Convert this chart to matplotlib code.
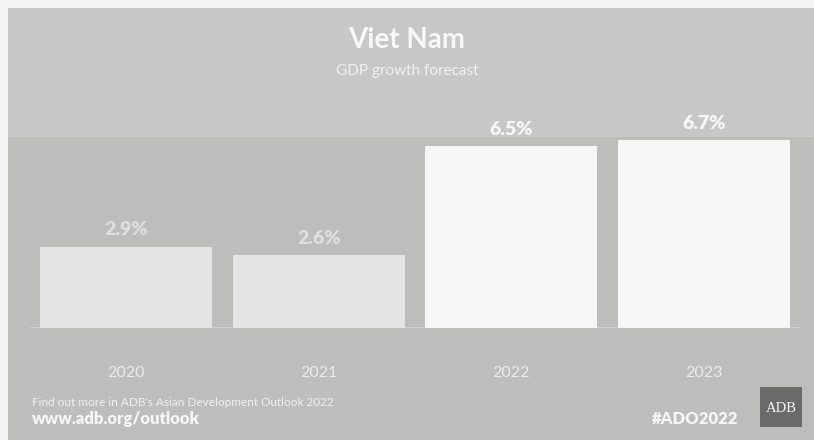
import matplotlib.pyplot as plt
from matplotlib.patches import Rectangle

# data
years = ["2020", "2021", "2022", "2023"]
growth = [2.9, 2.6, 6.5, 6.7]
bar_colors = ["#e3e4e3", "#e3e4e3", "#f5f6f5", "#f5f6f5"]
label_colors = ["#dedede", "#dedede", "#f7f7f7", "#f7f7f7"]

W, H = 814, 440
fig = plt.figure(figsize=(W / 100, H / 100), dpi=100)
fig.patch.set_facecolor("#bdbdbc")
plt.rcParams["font.family"] = ["Lato", "DejaVu Sans"]


def px(x, y):
    # pixel coords from top-left -> figure fraction
    return x / W, 1 - y / H


# white scan border on left and top
fig.patches.append(Rectangle((0, 0), 8 / W, 1, transform=fig.transFigure,
                             facecolor="#f4f4f4", edgecolor="none", zorder=-2))
fig.patches.append(Rectangle((0, 1 - 8 / H), 1, 8 / H, transform=fig.transFigure,
                             facecolor="#f4f4f4", edgecolor="none", zorder=-2))
# header band
fig.patches.append(Rectangle((8 / W, 1 - 137 / H), 1, (137 - 8) / H,
                             transform=fig.transFigure, facecolor="#c6c7c6",
                             edgecolor="none", zorder=-1))

# bar axes: baseline at y=328px, 28 px per unit
ax = fig.add_axes([30 / W, 112 / H, 770 / W, 196 / H])
ax.set_facecolor("none")
ax.bar(range(len(years)), growth, width=0.895, color=bar_colors, zorder=2)
ax.set_xlim(-0.5, 3.5)
ax.set_ylim(0, 7)
ax.axhline(0, color="#d2d2d2", lw=1.2, zorder=1)
for s in ax.spines.values():
    s.set_visible(False)
ax.set_yticks([])
ax.set_xticks(range(len(years)))
ax.set_xticklabels(years, fontsize=11.5, color="#ececec")
ax.tick_params(axis="x", length=0, pad=27)

for i, v in enumerate(growth):
    ax.text(i, v + 0.3, f"{v}%", ha="center", va="bottom", fontsize=14,
            fontweight="heavy", color=label_colors[i], zorder=3, clip_on=False)

# titles
fig.text(*px(407, 40), "Viet Nam", ha="center", va="center", fontsize=20,
         fontweight="bold", color="#f8f8f8")
fig.text(*px(407, 71), "GDP growth forecast", ha="center", va="center",
         fontsize=11, color="#f0f0f0")

# footer
fig.text(*px(32, 402), "Find out more in ADB's Asian Development Outlook 2022",
         ha="left", va="center", fontsize=8.5, color="#f0f0f0")
fig.text(*px(32, 419), "www.adb.org/outlook", ha="left", va="center",
         fontsize=12, fontweight="heavy", color="#f6f6f6")
fig.text(*px(738, 419), "#ADO2022", ha="right", va="center",
         fontsize=12, fontweight="heavy", color="#f6f6f6")

# ADB logo box
fig.patches.append(Rectangle(px(760, 427), 42 / W, 40 / H, transform=fig.transFigure,
                             facecolor="#6a6a6a", edgecolor="none"))
fig.text(*px(781, 408), "ADB", ha="center", va="center", fontsize=10.5,
         color="#f4f4f4", family=["Liberation Serif", "DejaVu Serif"])

fig.savefig("out.png", dpi=100, facecolor=fig.get_facecolor())
